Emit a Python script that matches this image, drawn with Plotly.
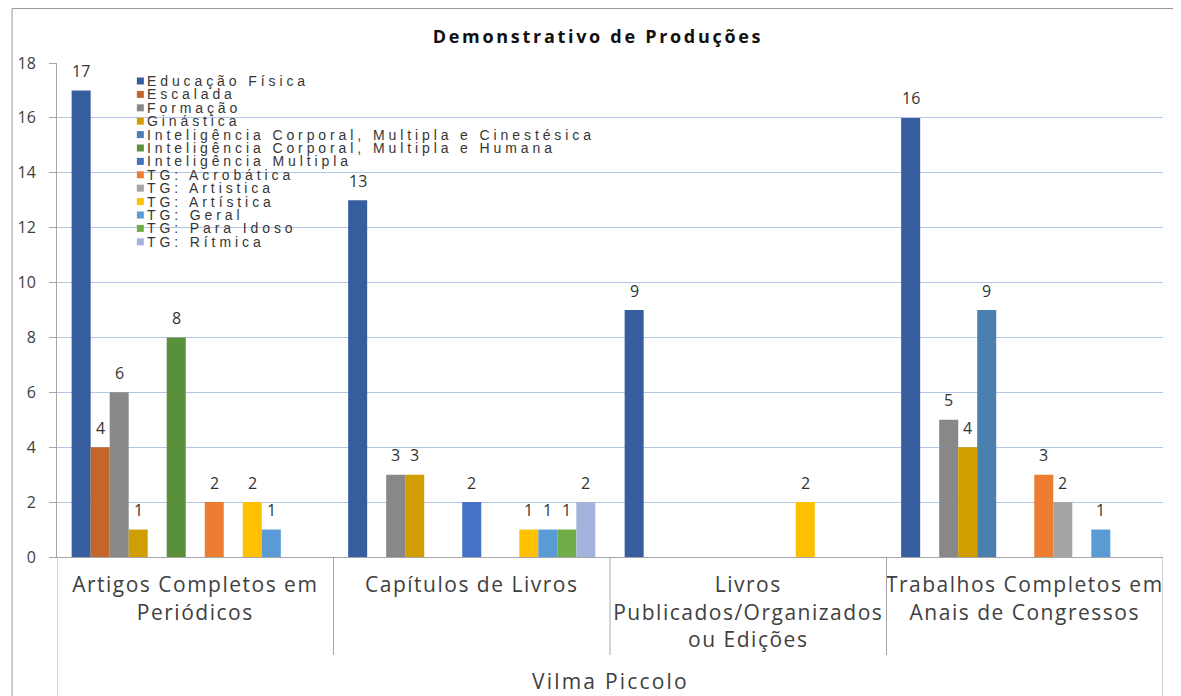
import plotly.graph_objects as go

# ---------------- data ----------------
categories = [
    "Artigos Completos em Periódicos",
    "Capítulos de Livros",
    "Livros Publicados/Organizados ou Edições",
    "Trabalhos Completos em Anais de Congressos",
]
tick_lines = [
    ["Artigos Completos em", "Periódicos"],
    ["Capítulos de Livros"],
    ["Livros", "Publicados/Organizados", "ou Edições"],
    ["Trabalhos Completos em", "Anais de Congressos"],
]
group_title = "Vilma Piccolo"
chart_title = "Demonstrativo de Produções"

series_names = [
    "Educação Física",
    "Escalada",
    "Formação",
    "Ginástica",
    "Inteligência Corporal, Multipla e Cinestésica",
    "Inteligência Corporal, Multipla e Humana",
    "Inteligência Multipla",
    "TG: Acrobática",
    "TG: Artistica",
    "TG: Artística",
    "TG: Geral",
    "TG: Para Idoso",
    "TG: Rítmica",
]
educacao_fisica = [17, 13, 9, 16]
escalada = [4, None, None, None]
formacao = [6, 3, None, 5]
ginastica = [1, 3, None, 4]
int_corp_cinestesica = [None, None, None, 9]
int_corp_humana = [8, None, None, None]
int_multipla = [None, 2, None, None]
tg_acrobatica = [2, None, None, 3]
tg_artistica_a = [None, None, None, 2]
tg_artistica_b = [2, 1, 2, None]
tg_geral = [1, 1, None, 1]
tg_para_idoso = [None, 1, None, None]
tg_ritmica = [None, 2, None, None]

series_values = [
    educacao_fisica, escalada, formacao, ginastica, int_corp_cinestesica,
    int_corp_humana, int_multipla, tg_acrobatica, tg_artistica_a,
    tg_artistica_b, tg_geral, tg_para_idoso, tg_ritmica,
]
series_colors = [
    "#365D9E", "#C4652B", "#888888", "#D09E00", "#4A7FB0", "#5A903A",
    "#4472C4", "#ED7D31", "#A5A5A5", "#FFC000", "#5B9BD5", "#70AD47",
    "#A3B3DC",
]

# ---------------- layout constants ----------------
OFF = 8                      # page offset of the figure (body margin)
W, H = 1181 - 2 * OFF, 696 - OFF
PLOT_L, PLOT_R, PLOT_T, PLOT_B = 55, 1163, 63, 557   # page pixels
ML, MT = PLOT_L - OFF, PLOT_T - OFF
MR = W - (PLOT_R - OFF)
MB = H - (PLOT_B - OFF)
PW, PH = W - ML - MR, H - MT - MB
BARGAP = 0.106
TEXT_COLOR = "#404040"
AXIS_COLOR = "#A6A6A6"


def px2x(px):
    return (px - OFF - ML) / PW


def py2y(py):
    return (H - MB - (py - OFF)) / PH


def spaced(text, ls):
    return f'<span style="letter-spacing:{ls}px">{text}</span>'


fig = go.Figure()
for name, vals, color in zip(series_names, series_values, series_colors):
    fig.add_bar(
        x=categories, y=vals, name=name,
        marker=dict(color=color, line=dict(width=0)),
        showlegend=False,
    )

annotations = []
shapes = []

# data labels above bars
n = len(series_names)
slot = (1 - BARGAP) / n
for j, vals in enumerate(series_values):
    for ci, v in enumerate(vals):
        if v is None:
            continue
        annotations.append(dict(
            x=ci + (j - (n - 1) / 2) * slot, y=v, xref="x", yref="y",
            text=str(v), showarrow=False, yanchor="middle", xanchor="center",
            yshift=19.5,
            font=dict(family="Open Sans", size=16, color="#333333"),
        ))

# manual legend (compact spacing)
leg_top, leg_step = 81, 13.4
for i, (name, color) in enumerate(zip(series_names, series_colors)):
    cy = leg_top + i * leg_step
    shapes.append(dict(
        type="rect", xref="paper", yref="paper",
        x0=px2x(135), x1=px2x(142), y0=py2y(cy + 3.5), y1=py2y(cy - 3.5),
        fillcolor=color, line=dict(width=0),
    ))
    annotations.append(dict(
        x=px2x(143.5), y=py2y(cy), xref="paper", yref="paper",
        text=spaced(name, 3.9), showarrow=False,
        xanchor="left", yanchor="middle",
        font=dict(family="Liberation Sans", size=14, color="#363636"),
    ))

# category separators below the axis
for b in [0.5, 1.5, 2.5]:
    shapes.append(dict(
        type="line", xref="x", yref="paper", x0=b, x1=b,
        y0=0, y1=py2y(655), line=dict(color=AXIS_COLOR, width=1),
    ))
for b in [-0.5, 3.5]:
    shapes.append(dict(
        type="line", xref="x", yref="paper", x0=b, x1=b,
        y0=0, y1=py2y(700), line=dict(color=AXIS_COLOR, width=1),
    ))

# outer chart border (top and left visible)
shapes.append(dict(
    type="line", xref="paper", yref="paper",
    x0=px2x(10), x1=px2x(10), y0=py2y(700), y1=py2y(8.5),
    line=dict(color="#9A9A9A", width=1),
))
shapes.append(dict(
    type="line", xref="paper", yref="paper",
    x0=px2x(10), x1=px2x(1190), y0=py2y(8.5), y1=py2y(8.5),
    line=dict(color="#9A9A9A", width=1),
))

# group title below categories
annotations.append(dict(
    x=1.5, y=py2y(681), xref="x", yref="paper",
    text=spaced(group_title, 2.2), showarrow=False,
    xanchor="center", yanchor="middle",
    font=dict(family="Open Sans", size=21, color=TEXT_COLOR),
))

ticktext = ["<br>".join(spaced(l, 1.5) for l in lines) for lines in tick_lines]

fig.update_layout(
    width=W, height=H,
    margin=dict(l=ML, r=MR, t=MT, b=MB),
    paper_bgcolor="white", plot_bgcolor="white",
    barmode="group", bargap=BARGAP, bargroupgap=0,
    title=dict(
        text=spaced(chart_title, 2.7),
        x=px2x(597), xref="paper", xanchor="center",
        y=1 - (37 - OFF) / H, yref="container", yanchor="middle",
        font=dict(family="Open Sans", size=18, color="#111111", weight="bold"),
    ),
    xaxis=dict(
        type="category", range=[-0.5, 3.5],
        tickvals=categories, ticktext=ticktext,
        tickfont=dict(family="Open Sans", size=21, color=TEXT_COLOR),
        showline=True, linecolor=AXIS_COLOR, linewidth=1,
        ticks="", showgrid=False, ticklabelstandoff=9,
    ),
    yaxis=dict(
        range=[0, 18], dtick=2, tick0=0,
        tickfont=dict(family="Open Sans", size=16, color=TEXT_COLOR),
        showline=True, linecolor=AXIS_COLOR, linewidth=1,
        ticks="outside", ticklen=7, tickcolor=AXIS_COLOR,
        gridcolor="#B4C6E7", gridwidth=1, zeroline=False,
        ticklabelstandoff=10,
    ),
    annotations=annotations,
    shapes=shapes,
)

fig.write_html("out.html")
